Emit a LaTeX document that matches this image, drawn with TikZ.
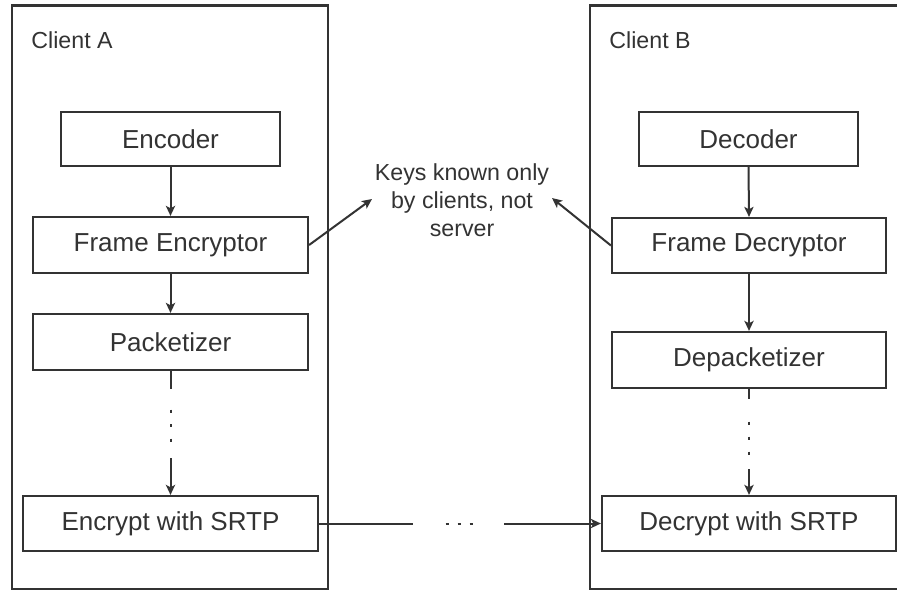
\documentclass[tikz,border=0pt]{standalone}
\usepackage{fontspec}
\setmainfont{Liberation Sans}
\usetikzlibrary{arrows.meta}
\definecolor{ink}{HTML}{333333}
\begin{document}
\begin{tikzpicture}[x=0.5pt,y=-0.5pt,
  container/.style={draw=ink, line width=1.1pt, inner sep=0pt},
  box/.style={draw=ink, line width=1.1pt, inner sep=0pt, text=ink, fill=white,
    font=\fontsize{13}{15}\selectfont},
  lbl/.style={text=ink, inner sep=0pt, font=\fontsize{11.6}{14}\selectfont},
  conn/.style={draw=ink, line width=1pt, -{Stealth[length=5pt,width=4.6pt,inset=1.2pt]}}
]
\path[fill=white, use as bounding box] (0,0) rectangle (897,589);
\clip (0,0) rectangle (897,589);

% containers
\node[container, minimum width=158pt, minimum height=291.75pt] (clientA) at (170,297.25) {};
\node[container, minimum width=160pt, minimum height=291.75pt] (clientB) at (750,297.25) {};
\node[lbl, anchor=west] (labA) at (31,40) {Client A};
\node[lbl, anchor=west] (labB) at (609,40) {Client B};

% client A boxes
\node[box, minimum width=109.5pt, minimum height=27pt] (enc) at (170.5,139) {Encoder};
\node[box, minimum width=137.5pt, minimum height=28pt] (fenc) at (170.5,245) {Frame Encryptor};
\node[box, minimum width=137.5pt, minimum height=28pt] (pack) at (170.5,342) {Packetizer};
\node[box, minimum width=147.5pt, minimum height=27.5pt] (esrtp) at (170.5,523.5) {Encrypt with SRTP};

% client B boxes
\node[box, minimum width=109.5pt, minimum height=27pt] (dec) at (748.5,139) {Decoder};
\node[box, minimum width=137pt, minimum height=27.5pt] (fdec) at (749,245.5) {Frame Decryptor};
\node[box, minimum width=137pt, minimum height=28pt] (depack) at (749,360) {Depacketizer};
\node[box, minimum width=147pt, minimum height=27.5pt] (dsrtp) at (749,523.5) {Decrypt with SRTP};

% keys note
\node[lbl, align=center] (keys) at (462,200) {Keys known only\\by clients, not\\server};
\coordinate (kL) at (372,199);
\coordinate (kR) at (552,198);

% connectors
\draw[conn] (enc.south) -- (fenc.north);
\draw[conn] (fenc.south) -- (pack.north);
\draw[conn, dash pattern=on 9pt off 10.3pt on 1.6pt off 5.6pt on 1.6pt off 5.6pt on 1.6pt off 8.2pt on 40pt]
  (pack.south) -- (esrtp.north);
\draw[conn] (dec.south) -- (fdec.north);
\draw[conn] (fdec.south) -- (depack.north);
\draw[conn, dash pattern=on 5pt off 11.3pt on 1.6pt off 5.9pt on 1.6pt off 5.9pt on 1.6pt off 7.1pt on 30pt]
  (depack.south) -- (dsrtp.north);
\draw[conn] (fenc.east) -- (kL);
\draw[conn] (fdec.west) -- (kR);
\draw[conn, dash pattern=on 47pt off 16.2pt on 1.6pt off 4.4pt on 1.6pt off 4.4pt on 1.6pt off 15.7pt on 70pt]
  (esrtp.east) -- (dsrtp.west);
\end{tikzpicture}
\end{document}
